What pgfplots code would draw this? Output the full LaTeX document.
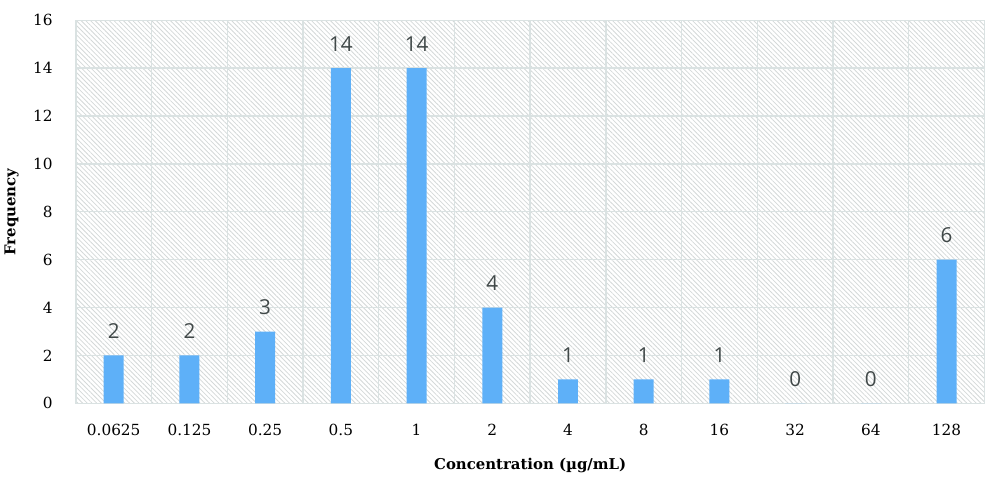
\documentclass[border=0pt]{standalone}
\usepackage{pgfplots}
\pgfplotsset{compat=1.18}
\usetikzlibrary{patterns.meta}
\usepackage{fontspec}
\setmainfont{DejaVu Serif}
\newfontfamily\lblfont{Open Sans}
\definecolor{barblue}{RGB}{94,176,248}
\definecolor{gridc}{RGB}{218,226,226}
\definecolor{hatchc}{RGB}{212,216,216}
\definecolor{lblc}{RGB}{64,72,72}
\begin{document}
\begin{tikzpicture}
\draw[white] (-55.5pt,15pt+288pt) rectangle (750pt-55.5pt,15pt+288pt-360.75pt);
\begin{axis}[
  at={(0,0)}, anchor=south west,
  scale only axis, width=683pt, height=288pt,
  xmin=-0.5, xmax=11.5, ymin=0, ymax=16,
  ytick={0,2,...,16},
  xtick={0,...,11},
  xticklabels={0.0625,0.125,0.25,0.5,1,2,4,8,16,32,64,128},
  minor xtick={-0.5,0.5,...,11.5},
  xminorgrids, ymajorgrids,
  grid style={gridc, line width=1pt},
  minor grid style={gridc, line width=1pt},
  major tick length=0pt, minor tick length=0pt,
  axis line style={gridc, line width=1pt},
  axis background/.style={pattern={Lines[angle=-45, distance=2.5pt, line width=0.6pt]}, pattern color=hatchc},
  tick label style={font=\fontsize{11.5}{13}\selectfont, black},
  /pgf/number format/assume math mode=true,
  xticklabel style={yshift=-12pt},
  yticklabel style={xshift=-14pt},
  xlabel={\textbf{Concentration (µg/mL)}},
  ylabel={\textbf{Frequency}},
  label style={font=\fontsize{11.2}{13}\selectfont},
  xlabel style={yshift=-10pt},
  ylabel style={yshift=4pt},
  ybar, bar width=15pt,
  nodes near coords,
  every node near coord/.append style={font=\lblfont\fontsize{15.5}{17}\selectfont, text=lblc, anchor=south, yshift=9pt},
]
\addplot[fill=barblue, draw=none] coordinates {
(0,2) (1,2) (2,3) (3,14) (4,14) (5,4) (6,1) (7,1) (8,1) (9,0) (10,0) (11,6)
};
\end{axis}
\end{tikzpicture}
\end{document}
